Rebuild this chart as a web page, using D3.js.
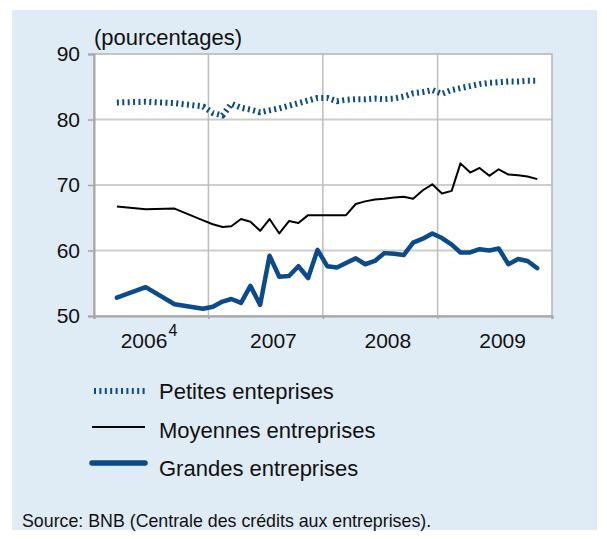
<!DOCTYPE html>
<html>
<head>
<meta charset="utf-8">
<script src="https://cdn.jsdelivr.net/npm/d3@7"></script>
<style>
  html, body { margin: 0; padding: 0; background: #ffffff; }
  svg { display: block; font-family: "Liberation Sans", Arial, sans-serif; }
</style>
</head>
<body>
<svg id="chart" width="607" height="539"></svg>
<script>
// ---- Data ----
const months = [
  "2006-03","2006-06","2006-09","2006-12",
  "2007-01","2007-02","2007-03","2007-04","2007-05","2007-06","2007-07","2007-08","2007-09","2007-10","2007-11","2007-12",
  "2008-01","2008-02","2008-03","2008-04","2008-05","2008-06","2008-07","2008-08","2008-09","2008-10","2008-11","2008-12",
  "2009-01","2009-02","2009-03","2009-04","2009-05","2009-06","2009-07","2009-08","2009-09","2009-10","2009-11"
];
const petites = [82.6,82.7,82.5,82.0,
  81.0,80.6,82.4,81.8,81.5,81.1,81.4,81.7,82.1,82.5,82.9,83.3,
  83.3,82.8,83.0,83.1,83.1,83.2,83.1,83.2,83.5,84.0,84.2,84.5,
  83.9,84.5,84.8,85.1,85.4,85.6,85.7,85.8,85.8,85.9,85.9];
const moyennes = [66.7,66.3,66.4,64.6,
  64.0,63.6,63.7,64.8,64.4,63.0,64.8,62.6,64.5,64.2,65.4,65.4,
  65.4,65.4,65.4,67.1,67.5,67.8,67.9,68.1,68.2,67.9,69.2,70.1,
  68.7,69.1,73.3,71.9,72.6,71.4,72.4,71.6,71.5,71.3,70.9];
const grandes = [52.8,54.4,51.8,51.1,
  51.4,52.2,52.6,52.0,54.6,51.7,59.2,56.0,56.1,57.6,55.8,60.1,
  57.6,57.4,58.1,58.8,57.9,58.4,59.6,59.5,59.3,61.2,61.8,62.6,
  61.9,60.9,59.7,59.7,60.2,60.0,60.3,57.9,58.7,58.4,57.3];
const years = [2006, 2007, 2008, 2009];
const yearNotes = ["4", "", "", ""];
const yTicks = [50, 60, 70, 80, 90];
const seriesNames = ["Petites enteprises", "Moyennes entreprises", "Grandes entreprises"];
const unitLabel = "(pourcentages)";
const sourceText = "Source: BNB (Centrale des crédits aux entreprises).";

// ---- Layout ----
const svg = d3.select("#chart");
const plot = { left: 94, right: 552, top: 54, bottom: 316 };
const BLUE = "#0b4a8b";
const FS = 21;
const FS_L = 22;

svg.append("rect").attr("x", 12).attr("y", 10).attr("width", 585).attr("height", 520)
  .attr("fill", "#dfebf5");

const parse = d3.timeParse("%Y-%m-%d");
const dates = months.map(m => parse(m + "-15"));

const x = d3.scaleTime()
  .domain([new Date(2006, 0, 1), new Date(2010, 0, 1)])
  .range([plot.left, plot.right]);
const y = d3.scaleLinear().domain([50, 90]).range([plot.bottom, plot.top]);

// plot background
svg.append("rect")
  .attr("x", plot.left).attr("y", plot.top)
  .attr("width", plot.right - plot.left).attr("height", plot.bottom - plot.top)
  .attr("fill", "#ffffff");

// horizontal grid
svg.append("g").selectAll("line").data(yTicks.filter(t => t > 50 && t < 90)).join("line")
  .attr("x1", plot.left).attr("x2", plot.right)
  .attr("y1", d => y(d)).attr("y2", d => y(d))
  .attr("stroke", "#cdcdcd").attr("stroke-width", 2);

// vertical grid at year boundaries
const yearStarts = years.slice(1).map(yr => new Date(yr, 0, 1));
svg.append("g").selectAll("line").data(yearStarts).join("line")
  .attr("x1", d => x(d)).attr("x2", d => x(d))
  .attr("y1", plot.top).attr("y2", plot.bottom)
  .attr("stroke", "#bdbdbd").attr("stroke-width", 1.5);

// frame
svg.append("rect")
  .attr("x", plot.left).attr("y", plot.top)
  .attr("width", plot.right - plot.left).attr("height", plot.bottom - plot.top)
  .attr("fill", "none").attr("stroke", "#b5b5b5").attr("stroke-width", 1.5);

// y axis
const yAxis = svg.append("g").attr("transform", `translate(${plot.left},0)`)
  .call(d3.axisLeft(y).tickValues(yTicks).tickSize(6).tickPadding(8).tickFormat(d3.format("d")));
yAxis.select(".domain").attr("stroke", "#a6a6a6").attr("stroke-width", 2);
yAxis.selectAll(".tick line").attr("stroke", "#a6a6a6").attr("stroke-width", 1.5);
yAxis.selectAll(".tick text").attr("font-size", FS).attr("fill", "#111")
  .attr("font-family", "Liberation Sans, Arial, sans-serif");

// x axis (ticks at year boundaries)
const xAxis = svg.append("g").attr("transform", `translate(0,${plot.bottom})`)
  .call(d3.axisBottom(x).tickValues(years.map(yr => new Date(yr, 0, 1)).concat([new Date(2010, 0, 1)]))
    .tickSize(3).tickFormat(""));
xAxis.select(".domain").attr("stroke", "#a6a6a6").attr("stroke-width", 2);
xAxis.selectAll(".tick line").attr("stroke", "#a6a6a6").attr("stroke-width", 1.5);

// year labels
const yl = svg.append("g");
years.forEach((yr, i) => {
  const cx = x(new Date(yr, 0, 1)) + 65 - (yearNotes[i] ? 10 : 0);
  const t = yl.append("text").attr("x", cx).attr("y", 348)
    .attr("text-anchor", "middle").attr("font-size", FS).attr("fill", "#111")
    .text(String(yr));
  if (yearNotes[i]) {
    t.append("tspan").attr("font-size", 16).attr("dy", -12).attr("dx", 1).text(yearNotes[i]);
  }
});

// unit label
svg.append("text").attr("x", plot.left).attr("y", 45)
  .attr("font-size", FS_L).attr("fill", "#111").text(unitLabel);

// lines
const line = d3.line().x((d, i) => x(dates[i])).y(d => y(d));

const styles = [
  { stroke: BLUE, width: 6, dash: "2,3.4", cap: "butt" },
  { stroke: "#000000", width: 2, dash: null, cap: "butt" },
  { stroke: BLUE, width: 4.5, dash: null, cap: "round" }
];
const allSeries = [petites, moyennes, grandes];

allSeries.forEach((s, k) => {
  svg.append("path").datum(s)
    .attr("d", line)
    .attr("fill", "none")
    .attr("stroke", styles[k].stroke)
    .attr("stroke-width", styles[k].width)
    .attr("stroke-linejoin", "round")
    .attr("stroke-linecap", styles[k].cap)
    .attr("stroke-dasharray", styles[k].dash);
});

// legend
const lg = svg.append("g");
seriesNames.forEach((name, i) => {
  const ly = 391 + i * 36;
  lg.append("line").attr("x1", i === 0 ? 94 : 92).attr("x2", 145)
    .attr("y1", ly).attr("y2", ly)
    .attr("stroke", styles[i].stroke)
    .attr("stroke-width", i === 2 ? 5.5 : styles[i].width)
    .attr("stroke-linecap", styles[i].cap)
    .attr("stroke-dasharray", styles[i].dash);
  lg.append("text").attr("x", 159).attr("y", 399 + i * 38.5)
    .attr("font-size", FS_L).attr("fill", "#111").text(name);
});

// source
svg.append("text").attr("x", 22).attr("y", 527)
  .attr("font-size", 17.8).attr("fill", "#111").text(sourceText);
</script>
</body>
</html>
